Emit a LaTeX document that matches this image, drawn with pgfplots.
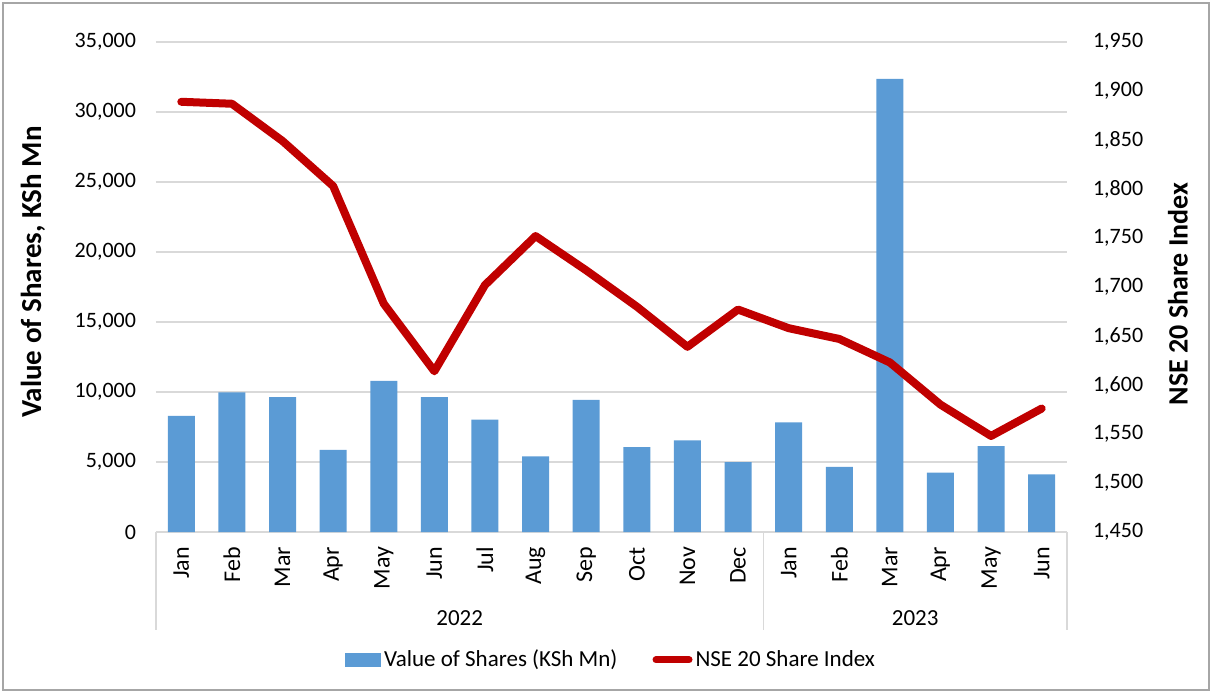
\documentclass[border=0pt]{standalone}
\usepackage{pgfplots}
\usepackage{pgfplotstable}
\pgfplotsset{compat=1.18}
\usepackage{fontspec}
\setmainfont{Carlito}
\definecolor{barblue}{HTML}{5B9BD5}
\definecolor{linered}{HTML}{C00000}
\definecolor{gridgray}{HTML}{D9D9D9}
\definecolor{framegray}{HTML}{A6A6A6}

\pgfplotstableread{
x val idx
0 8290 1889
1 9980 1887
2 9640 1849
3 5860 1803
4 10790 1683
5 9640 1614
6 8020 1702
7 5400 1752
8 9430 1717
9 6070 1680
10 6550 1639
11 5000 1677
12 7830 1658
13 4650 1647
14 32360 1623
15 4240 1580
16 6140 1548
17 4120 1576
}\datatable

\begin{document}
\begin{tikzpicture}[x=1pt,y=1pt]
\path[use as bounding box] (0,0) rectangle (606,346.5);
\draw[framegray, line width=1pt] (1.5,1.5) rectangle (604.5,345);
\begin{axis}[
  at={(78pt,80.5pt)}, anchor=south west, scale only axis,
  width=455.5pt, height=245pt,
  xmin=-0.5, xmax=17.5, ymin=0, ymax=35000, ytick distance=5000,
  xtick={0,...,17},
  xticklabels={Jan,Feb,Mar,Apr,May,Jun,Jul,Aug,Sep,Oct,Nov,Dec,Jan,Feb,Mar,Apr,May,Jun},
  xticklabel style={rotate=90, anchor=east, font=\fontsize{12}{14}\selectfont},
  xticklabel shift=4pt,
  yticklabel style={font=\fontsize{11}{13}\selectfont},
  yticklabel shift=6.5pt,
  /pgf/number format/assume math mode=true,
  /pgf/number format/1000 sep={,},
  scaled y ticks=false,
  axis line style={draw=none}, tick style={draw=none},
  ymajorgrids, grid style={gridgray, line width=0.75pt},
  clip=false,
  legend columns=2,
  legend style={draw=none, fill=none, at={(0.5,-0.261)}, anchor=center,
    font=\fontsize{11.5}{13}\selectfont,
    /tikz/every even column/.append style={column sep=16pt},
    nodes={inner sep=1.5pt}},
  legend cell align=left,
]
\addplot[ybar, bar width=13.5pt, fill=barblue, draw=none,
  legend image code/.code={\fill[barblue] (0pt,-3.5pt) rectangle (18pt,3.5pt);}]
  table[x=x,y=val]{\datatable};
\addlegendentry{Value of Shares (KSh Mn)}
\addlegendimage{legend image code/.code={\draw[linered, line width=3.5pt, line cap=round] (1.75pt,0pt) -- (18.25pt,0pt);}}
\addlegendentry{NSE 20 Share Index}
\draw[gridgray, line width=0.75pt] (axis cs:-0.5,0) -- ([yshift=-49pt]axis cs:-0.5,0);
\draw[gridgray, line width=0.75pt] (axis cs:11.5,0) -- ([yshift=-49pt]axis cs:11.5,0);
\draw[gridgray, line width=0.75pt] (axis cs:17.5,0) -- ([yshift=-49pt]axis cs:17.5,0);
\node[font=\fontsize{11.5}{13}\selectfont] at ([yshift=-43pt]axis cs:5.5,0) {2022};
\node[font=\fontsize{11.5}{13}\selectfont] at ([yshift=-43pt]axis cs:14.5,0) {2023};
\end{axis}
\begin{axis}[
  at={(78pt,80.5pt)}, anchor=south west, scale only axis,
  width=455.5pt, height=245pt,
  xmin=-0.5, xmax=17.5, ymin=1450, ymax=1950, ytick distance=50,
  xtick=\empty,
  yticklabel pos=right,
  yticklabel style={font=\fontsize{11}{13}\selectfont},
  yticklabel shift=9.5pt,
  /pgf/number format/assume math mode=true,
  /pgf/number format/1000 sep={,},
  scaled y ticks=false,
  axis line style={draw=none}, tick style={draw=none},
]
\addplot[linered, line width=4pt, line join=round, line cap=round, mark=none]
  table[x=x,y=idx]{\datatable};
\end{axis}
\node[rotate=90, font=\bfseries\fontsize{14.5}{16}\selectfont] at (16.5,210.5) {Value of Shares, KSh Mn};
\node[rotate=90, font=\bfseries\fontsize{14}{16}\selectfont] at (589,199.5) {NSE 20 Share Index};
\end{tikzpicture}
\end{document}
